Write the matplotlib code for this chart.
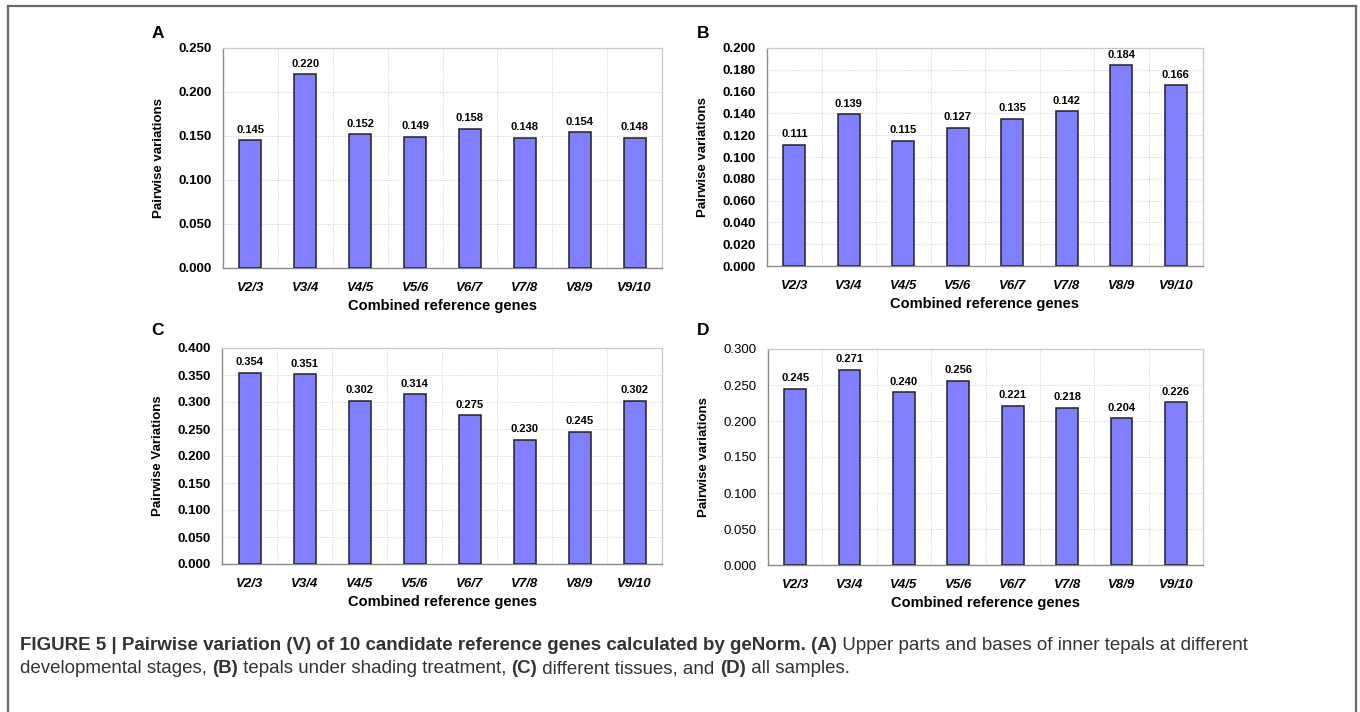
import matplotlib
matplotlib.use('Agg')
import matplotlib.pyplot as plt
from matplotlib.lines import Line2D
import numpy as np

plt.rcParams['font.family'] = ['Liberation Sans', 'DejaVu Sans']

W, H = 1360, 712

categories = ['V2/3', 'V3/4', 'V4/5', 'V5/6', 'V6/7', 'V7/8', 'V8/9', 'V9/10']
vals_a = [0.145, 0.220, 0.152, 0.149, 0.158, 0.148, 0.154, 0.148]
vals_b = [0.111, 0.139, 0.115, 0.127, 0.135, 0.142, 0.184, 0.166]
vals_c = [0.354, 0.351, 0.302, 0.314, 0.275, 0.230, 0.245, 0.302]
vals_d = [0.245, 0.271, 0.240, 0.256, 0.221, 0.218, 0.204, 0.226]

yticks_a = np.arange(0, 0.2501, 0.05)
yticks_b = np.arange(0, 0.2001, 0.02)
yticks_c = np.arange(0, 0.4001, 0.05)
yticks_d = np.arange(0, 0.3001, 0.05)

BAR = '#8080ff'


def px_axes(fig, l, t, r, b):
    return fig.add_axes([l / W, 1 - b / H, (r - l) / W, (b - t) / H])


def panel(ax, vals, yticks, ylabel, tick_bold=True):
    x = np.arange(len(categories))
    ax.bar(x, vals, width=0.4, color=BAR, edgecolor='#222222', linewidth=1.1, zorder=3)
    for xi, v in zip(x, vals):
        ax.annotate('%.3f' % v, (xi, v), xytext=(0, 4), textcoords='offset points',
                    ha='center', va='bottom', fontsize=8, fontweight='bold', zorder=4)
    ax.set_xlim(-0.5, len(categories) - 0.5)
    ax.set_ylim(yticks[0], yticks[-1])
    ax.set_yticks(yticks)
    ax.set_yticklabels(['%.3f' % t for t in yticks], fontsize=9.5,
                       fontweight='bold' if tick_bold else 'normal')
    ax.set_xticks(x)
    ax.set_xticklabels(categories, fontsize=9.5, fontweight='bold', style='italic')
    ax.tick_params(axis='both', length=0)
    ax.tick_params(axis='y', pad=8)
    ax.tick_params(axis='x', pad=10)
    # dotted grid
    for yt in yticks[1:-1]:
        ax.axhline(yt, color='#cfcfcf', lw=0.7, ls=(0, (1, 1.5)), zorder=1)
    for xb in np.arange(0.5, len(categories) - 0.5, 1):
        ax.axvline(xb, color='#cfcfcf', lw=0.7, ls=(0, (1, 1.5)), zorder=1)
    for s in ['top', 'right']:
        ax.spines[s].set_color('#c8c8c8')
        ax.spines[s].set_linewidth(0.9)
    for s in ['left', 'bottom']:
        ax.spines[s].set_color('#8a8a8a')
        ax.spines[s].set_linewidth(1.0)
    ax.set_xlabel('Combined reference genes', fontsize=10.5, fontweight='bold', labelpad=4)
    ax.set_ylabel(ylabel, fontsize=9.5, fontweight='bold', labelpad=10)


fig = plt.figure(figsize=(W / 100, H / 100), dpi=100)

ax_a = px_axes(fig, 223, 48, 662, 268)
panel(ax_a, vals_a, yticks_a, 'Pairwise variations')
ax_b = px_axes(fig, 767, 48, 1203, 266)
panel(ax_b, vals_b, yticks_b, 'Pairwise variations')
ax_c = px_axes(fig, 222, 348, 662, 564)
panel(ax_c, vals_c, yticks_c, 'Pairwise Variations')
ax_d = px_axes(fig, 768, 349, 1203, 565)
panel(ax_d, vals_d, yticks_d, 'Pairwise variations', tick_bold=False)

for letter, lx, ly in [('A', 158, 33), ('B', 703, 33), ('C', 158, 330), ('D', 703, 330)]:
    fig.text(lx / W, 1 - ly / H, letter, fontsize=12.5, fontweight='bold',
             ha='center', va='center')

# outer frame (open at the bottom)
frame_kw = dict(color='#6a6a6a', lw=1.6, transform=fig.transFigure)
fig.add_artist(Line2D([8 / W, 8 / W], [0, 1 - 6 / H], **frame_kw))
fig.add_artist(Line2D([8 / W, 1356 / W], [1 - 6 / H, 1 - 6 / H], **frame_kw))
fig.add_artist(Line2D([1356 / W, 1356 / W], [0, 1 - 6 / H], **frame_kw))

# caption with mixed bold / regular runs
cap_color = '#333333'
line1 = [('FIGURE 5 | Pairwise variation (V) of 10 candidate reference genes calculated by geNorm. (A)', 'bold'),
         (' Upper parts and bases of inner tepals at different', 'normal')]
line2 = [('developmental stages, ', 'normal'), ('(B)', 'bold'),
         (' tepals under shading treatment, ', 'normal'), ('(C)', 'bold'),
         (' different tissues, and ', 'normal'), ('(D)', 'bold'), (' all samples.', 'normal')]

fig.canvas.draw()
renderer = fig.canvas.get_renderer()
for runs, ly in [(line1, 650), (line2, 673)]:
    xpos = 20
    for txt, wt in runs:
        t = fig.text(xpos / W, 1 - ly / H, txt, fontsize=13.5, fontweight=wt,
                     color=cap_color, ha='left', va='baseline')
        bb = t.get_window_extent(renderer=renderer)
        xpos += bb.width

fig.savefig('out.png', dpi=100)
